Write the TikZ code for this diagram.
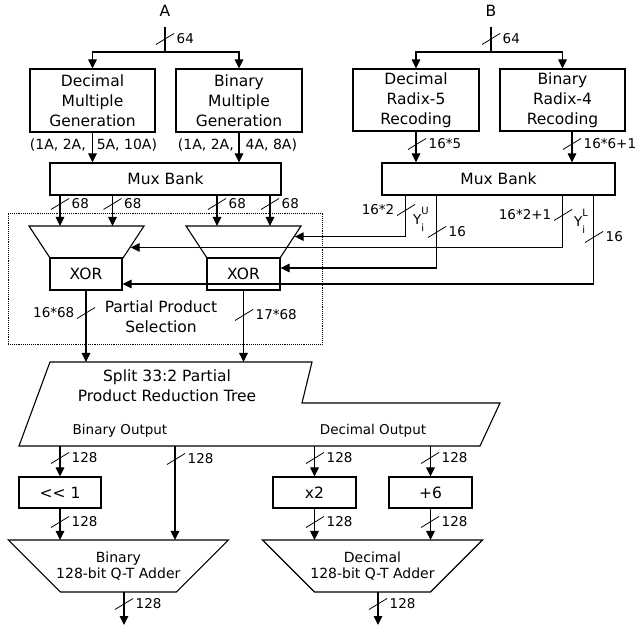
\documentclass[tikz,border=0pt]{standalone}
\usepackage{amsmath}
\usepackage{fontspec}
\setmainfont{DejaVu Sans}
\usetikzlibrary{shapes.geometric, arrows.meta, positioning, calc}

\newcommand{\boxfont}{\fontsize{15.5}{20}\selectfont}
\newcommand{\labfont}{\fontsize{13.5}{16}\selectfont}
\newcommand{\yidx}[1]{Y\rlap{\raisebox{10.5pt}{\fontsize{10}{10}\selectfont #1}}\raisebox{-6.5pt}{\fontsize{10}{10}\selectfont i}}

\tikzset{
  % --- blocks ----------------------------------------------
  inp/.style={font=\boxfont, inner sep=0pt, outer sep=0pt, minimum height=32pt},
  blk/.style={draw, line width=1.1pt, align=center, font=\boxfont, inner sep=0pt},
  mux/.style={draw, line width=1.1pt, trapezium, shape border rotate=180,
    trapezium angle=56.7, inner xsep=36.5pt, inner ysep=16pt},
  adder/.style={draw, line width=1.1pt, trapezium, shape border rotate=180,
    trapezium angle=45, inner xsep=58pt, inner ysep=26pt},
  addtxt/.style={font=\fontsize{14}{16}\selectfont, align=center, inner sep=0pt},
  txt/.style={font=\boxfont, align=center, inner sep=0pt},
  mlab/.style={font=\fontsize{14}{16}\selectfont, inner sep=0pt},
  lab/.style={font=\labfont, inner sep=1.5pt},
  selbox/.style={draw, densely dotted, line width=0.9pt, inner sep=0pt},
  % --- wires -----------------------------------------------
  wire/.style={line width=1.1pt},
  arr/.style={-{Triangle[length=9pt,width=8.5pt]}, line width=1.1pt},
  buscut/.style={line width=0.8pt},
  pics/busr/.style={code={\draw[buscut] (-9,5.5) -- (9,-5.5);
    \node[lab, anchor=west] (-t) at (10,0) {#1};}},
  pics/busl/.style={code={\draw[buscut] (-9,5.5) -- (9,-5.5);
    \node[lab, anchor=east] (-t) at (-10,0) {#1};}}
}

\begin{document}
\begin{tikzpicture}[x=1pt, y=-1pt]
  \useasboundingbox (0,0) rectangle (638,628);

  % --- Inputs ----------------------------------------------
  \node[inp] (A) at (165,11) {A};
  \node[inp] (B) at (491,11) {B};
  \coordinate (Afork) at (165,52);
  \coordinate (Bfork) at (491,52);

  % --- Multiple generation / recoding ----------------------
  \node[blk, minimum width=125pt, minimum height=63pt] (DMG) at (92.5,100.5) {Decimal\\Multiple\\Generation};
  \node[blk, minimum width=126pt, minimum height=63pt] (BMG) at (239,100.5) {Binary\\Multiple\\Generation};
  \node[blk, minimum width=126pt, minimum height=62pt] (DR5) at (416,100) {Decimal\\Radix-5\\Recoding};
  \node[blk, minimum width=125pt, minimum height=62pt] (BR4) at (562.5,100) {Binary\\Radix-4\\Recoding};

  \node[mlab] (mulD) at (93.5,145) {(1A, 2A,\hspace{11pt}5A, 10A)};
  \node[mlab] (mulB) at (237.5,145) {(1A, 2A,\hspace{12pt}4A, 8A)};

  % --- Mux banks -------------------------------------------
  \node[blk, minimum width=231pt, minimum height=32pt] (MUXA) at (165.5,179) {Mux Bank};
  \node[blk, minimum width=233pt, minimum height=32pt] (MUXB) at (498.5,179) {Mux Bank};

  % --- Partial product selection ---------------------------
  \node[selbox, minimum width=314pt, minimum height=131pt] (PPS) at (165,278.5) {};
  \node[mux] (MUX1) at (86.5,242) {};
  \node[mux] (MUX2) at (243.5,242) {};
  \node[blk, minimum width=72pt, minimum height=32pt] (XOR1) at (86,274) {XOR};
  \node[blk, minimum width=73pt, minimum height=32pt] (XOR2) at (243.5,274) {XOR};
  \node[txt] (PPSt) at (161,317) {Partial Product\\Selection};

  % --- Reduction tree --------------------------------------
  \coordinate (t1) at (50,362);
  \coordinate (t2) at (312,362);
  \coordinate (t3) at (302,403);
  \coordinate (t4) at (500,403);
  \coordinate (t5) at (480,446);
  \coordinate (t6) at (19,446);
  \draw[wire] (t1) -- (t2) -- (t3) -- (t4) -- (t5) -- (t6) -- cycle;
  \node[txt] (TREE) at (167,386) {Split 33:2 Partial\\Product Reduction Tree};
  \node[lab, anchor=base] (BOUT) at (120,435) {Binary Output};
  \node[lab, anchor=base] (DOUT) at (373,435) {Decimal Output};

  % --- Correction and adders -------------------------------
  \node[blk, minimum width=82pt, minimum height=31pt] (SHL) at (60,492.5) {<{}< 1};
  \node[blk, minimum width=83pt, minimum height=31pt] (X2) at (314.5,492.5) {x2};
  \node[blk, minimum width=83pt, minimum height=31pt] (P6) at (430.5,492.5) {+6};
  \node[adder, label={[addtxt, name=BADDt]center:Binary\\128-bit Q-T Adder}] (BADD) at (118.3,566) {};
  \node[adder, label={[addtxt, name=DADDt]center:Decimal\\128-bit Q-T Adder}] (DADD) at (372.5,566) {};

  % --- Wires: inputs ---------------------------------------
  \draw[wire] (A.south) -- (Afork);
  \draw[arr] (Afork) -| (DMG.north);
  \draw[arr] (Afork) -| (BMG.north);
  \pic (wA) at (165,39) {busr=64};
  \draw[wire] (B.south) -- (Bfork);
  \draw[arr] (Bfork) -| (DR5.north);
  \draw[arr] (Bfork) -| (BR4.north);
  \pic (wB) at (491,39) {busr=64};

  % --- Wires: into mux banks -------------------------------
  \draw[arr] (DMG.south) -- (DMG.south |- MUXA.north);
  \draw[arr] (BMG.south) -- (BMG.south |- MUXA.north);
  \draw[arr] (DR5.south) -- (DR5.south |- MUXB.north);
  \pic (wD5) at (417,144) {busr=16*5};
  \draw[arr] ([xshift=9.5pt]BR4.south) -- ([xshift=9.5pt]BR4.south |- MUXB.north);
  \pic (wB4) at (572,144) {busr=16*6+1};

  % --- Wires: multiples to selectors -----------------------
  \coordinate (m1a) at (60,226);
  \coordinate (m1b) at (112.5,226);
  \coordinate (m2a) at (217,226);
  \coordinate (m2b) at (270,226);
  \draw[arr] (m1a |- MUXA.south) -- (m1a);
  \draw[arr] (m1b |- MUXA.south) -- (m1b);
  \draw[arr] (m2a |- MUXA.south) -- (m2a);
  \draw[arr] (m2b |- MUXA.south) -- (m2b);
  \pic (w1a) at (60,204) {busr=68};
  \pic (w1b) at (112.5,204) {busr=68};
  \pic (w2a) at (217,204) {busr=68};
  \pic (w2b) at (270,204) {busr=68};

  % --- Wires: recoded digits -------------------------------
  \coordinate (yu) at ($(MUXB.south west)+(24,0)$);
  \coordinate (yus) at ($(MUXB.south west)+(55,0)$);
  \coordinate (yl) at ($(MUXB.south west)+(181,0)$);
  \coordinate (yls) at ($(MUXB.south west)+(212,0)$);
  \draw[arr] (yu) |- (MUX2.6);
  \draw[arr] (yus) |- ([yshift=6pt]XOR2.east);
  \draw[arr] (yl) |- (MUX1.-7);
  \draw[arr] (yls) |- ([yshift=-10pt]XOR1.east);
  \pic (wyu) at (406,210) {busl=16*2};
  \pic (wyus) at (437,232) {busr=16};
  \pic (wyl) at (563,215) {busl=16*2+1};
  \pic (wyls) at (594,237) {busr=16};
  \node[lab, inner sep=0pt, anchor=base west] (YU) at (413,225) {\yidx{U}};
  \node[lab, inner sep=0pt, anchor=base west] (YL) at (574,227) {\yidx{L}};

  % --- Wires: partial products -----------------------------
  \draw[arr] (XOR1.south) -- (XOR1.south |- t1);
  \draw[arr] (XOR2.south) -- (XOR2.south |- t1);
  \pic (wp1) at (86,313) {busl=16*68};
  \pic (wp2) at (244,315) {busr=17*68};

  % --- Wires: outputs --------------------------------------
  \coordinate (bp) at (175,540);
  \draw[arr] (SHL.north |- t6) -- (SHL.north);
  \draw[arr] (bp |- t6) -- (bp);
  \draw[arr] (X2.north |- t6) -- (X2.north);
  \draw[arr] (P6.north |- t6) -- (P6.north);
  \pic (wo1) at (60,458) {busr=128};
  \pic (wo2) at (176,459) {busr=128};
  \pic (wo3) at (315,458) {busr=128};
  \pic (wo4) at (430,458) {busr=128};

  \coordinate (bin) at (60,540);
  \coordinate (din1) at (314.5,540);
  \coordinate (din2) at (430.5,540);
  \draw[arr] (SHL.south) -- (bin);
  \draw[arr] (X2.south) -- (din1);
  \draw[arr] (P6.south) -- (din2);
  \pic (wc1) at (60,522) {busr=128};
  \pic (wc2) at (315,522) {busr=128};
  \pic (wc3) at (430,522) {busr=128};

  \coordinate (bo) at (124,625);
  \coordinate (do) at (378,625);
  \draw[arr] (bo |- 0,592) -- (bo);
  \draw[arr] (do |- 0,592) -- (do);
  \pic (wr1) at (124,604) {busr=128};
  \pic (wr2) at (378,604) {busr=128};

\end{tikzpicture}
\end{document}
